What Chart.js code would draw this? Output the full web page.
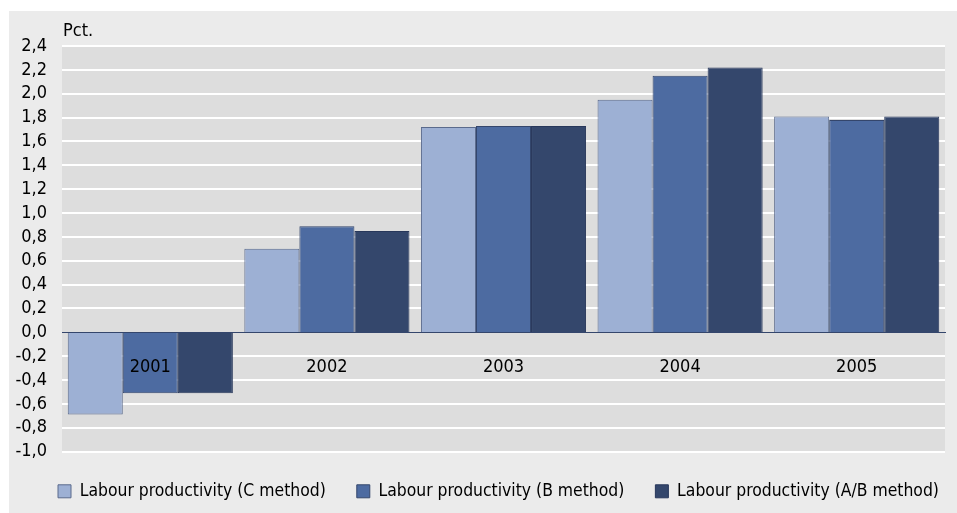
<!DOCTYPE html>
<html><head><meta charset="utf-8">
<script src="https://cdn.jsdelivr.net/npm/chart.js@4.4.1/dist/chart.umd.min.js"></script>
<style>html,body{margin:0;padding:0;background:#fff;} #wrap{position:relative;width:957px;height:513px;}</style>
</head><body>
<div id="wrap"><canvas id="c" width="957" height="513"></canvas></div>
<script>
const categories = ['2001', '2002', '2003', '2004', '2005'];
const seriesNames = ['Labour productivity (C method)', 'Labour productivity (B method)', 'Labour productivity (A/B method)'];
const cMethod = [-0.69, 0.70, 1.72, 1.95, 1.81];
const bMethod = [-0.51, 0.89, 1.73, 2.15, 1.78];
const abMethod = [-0.51, 0.85, 1.73, 2.22, 1.81];
const yMin = -1.0, yMax = 2.4, yStep = 0.2;
const yUnit = 'Pct.';

const FONT = "'DejaVu Sans Condensed', 'DejaVu Sans', sans-serif";
const FSIZE = 18;
const LSIZE = 17.4;

function fmt(v) {
  if (Math.abs(v) < 1e-9) v = 0;
  return v.toFixed(1).replace('.', ',');
}

const bgPlugin = {
  id: 'bg',
  afterLayout(chart) {
    const lg = chart.legend;
    if (lg) { lg.left = 27; lg.right = 1200; }
  },
  beforeDraw(chart) {
    const {ctx, chartArea: a} = chart;
    ctx.save();
    ctx.fillStyle = '#ffffff';
    ctx.fillRect(0, 0, chart.width, chart.height);
    ctx.fillStyle = '#ebebeb';
    ctx.fillRect(9, 11, chart.width - 9, chart.height - 11);
    ctx.fillStyle = '#dddddd';
    ctx.fillRect(a.left, a.top, a.right - a.left, a.bottom - a.top);
    ctx.restore();
  },
  afterDraw(chart) {
    const {ctx, chartArea: a} = chart;
    ctx.save();
    ctx.fillStyle = '#000';
    ctx.font = FSIZE + 'px ' + FONT;
    ctx.textBaseline = 'middle';
    ctx.textAlign = 'left';
    ctx.fillText(yUnit, a.left + 1, 31);
    ctx.restore();
  }
};

const colors = ['#9db0d4', '#4d6ba1', '#34476c'];
const borders = ['#5a6a8c', '#34466c', '#27375a'];
const seriesData = [cMethod, bMethod, abMethod];

new Chart(document.getElementById('c'), {
  type: 'bar',
  data: {
    labels: categories,
    datasets: seriesNames.map((n, i) => ({
      label: n,
      data: seriesData[i],
      backgroundColor: colors[i],
      borderColor: borders[i],
      borderWidth: 1,
      categoryPercentage: 0.935,
      barPercentage: 1.0
    }))
  },
  options: {
    responsive: false,
    animation: false,
    layout: { padding: { top: 46, left: 0, right: 12, bottom: 3 } },
    scales: {
      x: {
        position: { y: 0 },
        offset: true,
        grid: { display: true, color: 'rgba(0,0,0,0)', drawTicks: false },
        border: { display: true, color: '#34466c', width: 1, z: 1 },
        ticks: { z: 1, padding: 24, color: '#000', font: { family: FONT, size: FSIZE } }
      },
      y: {
        min: yMin, max: yMax,
        afterFit(s) { s.width = 62; },
        grid: {
          color: c => (c.tick && Math.abs(c.tick.value) < 1e-9) ? 'rgba(0,0,0,0)' : '#ffffff',
          lineWidth: 2,
          drawTicks: false
        },
        border: { display: false },
        ticks: { stepSize: yStep, autoSkip: false, padding: 15, color: '#000', font: { family: FONT, size: FSIZE }, callback: v => fmt(v) }
      }
    },
    plugins: {
      legend: {
        position: 'bottom',
        align: 'start',
        labels: { boxWidth: 13, boxHeight: 13, padding: 31, color: '#000', font: { family: FONT, size: LSIZE } }
      },
      tooltip: { enabled: false }
    }
  },
  plugins: [bgPlugin]
});
</script>
</body></html>
